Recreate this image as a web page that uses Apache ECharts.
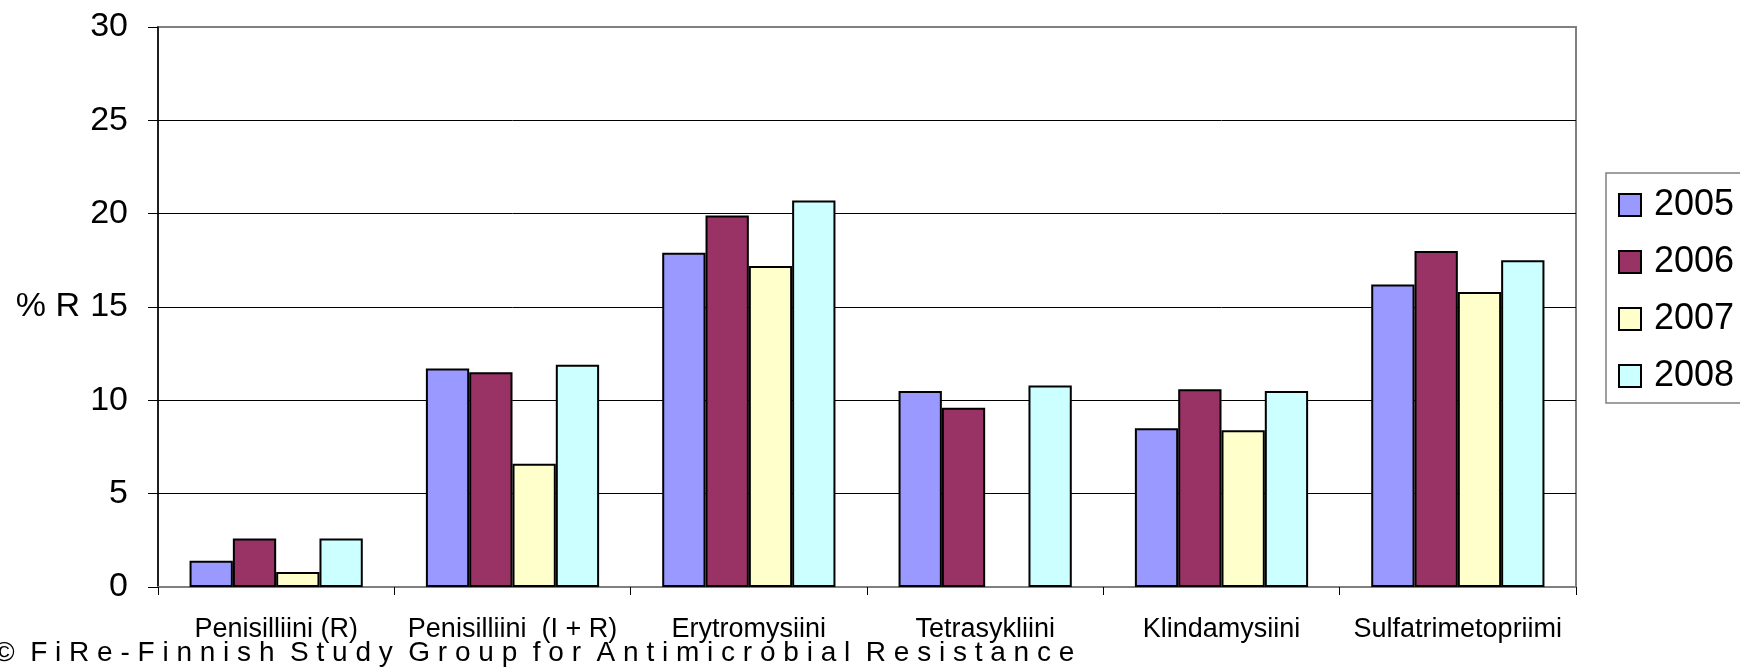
<!DOCTYPE html>
<html>
<head>
<meta charset="utf-8">
<script src="https://cdn.jsdelivr.net/npm/echarts@6/dist/echarts.min.js"></script>
<style>
  html, body { margin: 0; padding: 0; background: #fff; }
  #main { width: 1740px; height: 667px; }
</style>
</head>
<body>
<div id="main"></div>
<script>
// categories and yearly values (% resistant)
var categories = ['Penisilliini (R)', 'Penisilliini  (I + R)', 'Erytromysiini', 'Tetrasykliini', 'Klindamysiini', 'Sulfatrimetopriimi'];
var years = ['2005', '2006', '2007', '2008'];
var v2005 = [1.4, 11.7, 17.9, 10.5, 8.5, 16.2];
var v2006 = [2.6, 11.5, 19.9, 9.6, 10.6, 18.0];
var v2007 = [0.8, 6.6, 17.2, null, 8.4, 15.8];
var v2008 = [2.6, 11.9, 20.7, 10.8, 10.5, 17.5];
var colors = ['#9999ff', '#993366', '#ffffcc', '#ccffff'];
var footer = '©  F i R e - F i n n i s h  S t u d y  G r o u p  f o r  A n t i m i c r o b i a l  R e s i s t a n c e';

var font = 'Liberation Sans, Arial, sans-serif';
var allValues = [v2005, v2006, v2007, v2008];

var series = years.map(function (y, i) {
    return {
        name: y,
        type: 'bar',
        data: allValues[i],
        barGap: '0%',
        barCategoryGap: '26.7%',
        itemStyle: {
            color: colors[i],
            borderColor: '#000',
            borderWidth: 2
        }
    };
});

var myChart = echarts.init(document.getElementById('main'));
var option = {
    animation: false,
    backgroundColor: '#fff',
    grid: {
        left: 158,
        right: 164,
        top: 27,
        bottom: 80,
        show: true,
        borderColor: '#808080',
        borderWidth: 2
    },
    legend: {
        orient: 'vertical',
        left: 1606,
        top: 173,
        padding: [14, 12, 9, 12],
        itemGap: 21,
        itemWidth: 22,
        itemHeight: 22,
        icon: 'rect',
        borderColor: '#808080',
        borderWidth: 1.5,
        data: years,
        textStyle: {
            fontFamily: font,
            fontSize: 36,
            color: '#000',
            padding: [0, 0, 0, 8],
            width: 120
        }
    },
    xAxis: {
        type: 'category',
        data: categories,
        axisLine: { lineStyle: { color: '#808080', width: 2 } },
        axisTick: { show: true, length: 8, lineStyle: { color: '#000' } },
        axisLabel: {
            fontFamily: font,
            fontSize: 27,
            color: '#000',
            margin: 29,
            interval: 0
        }
    },
    yAxis: {
        type: 'value',
        min: 0,
        max: 30,
        interval: 5,
        name: '% R',
        nameLocation: 'middle',
        nameRotate: 0,
        nameGap: 78,
        nameTextStyle: { fontFamily: font, fontSize: 34, color: '#000', align: 'right' },
        axisLine: { show: true, lineStyle: { color: '#000', width: 1.5 } },
        axisTick: { show: true, length: 10, lineStyle: { color: '#000' } },
        axisLabel: { fontFamily: font, fontSize: 34, color: '#000', margin: 30 },
        splitLine: {
            show: true,
            lineStyle: { color: ['#808080', '#000', '#000', '#000', '#000', '#000', '#808080'], width: 1 }
        }
    },
    graphic: [{
        type: 'text',
        left: -6,
        top: 639,
        style: {
            text: footer,
            fontFamily: font,
            fontSize: 28,
            fill: '#000'
        }
    }],
    series: series
};
myChart.setOption(option);
</script>
</body>
</html>
